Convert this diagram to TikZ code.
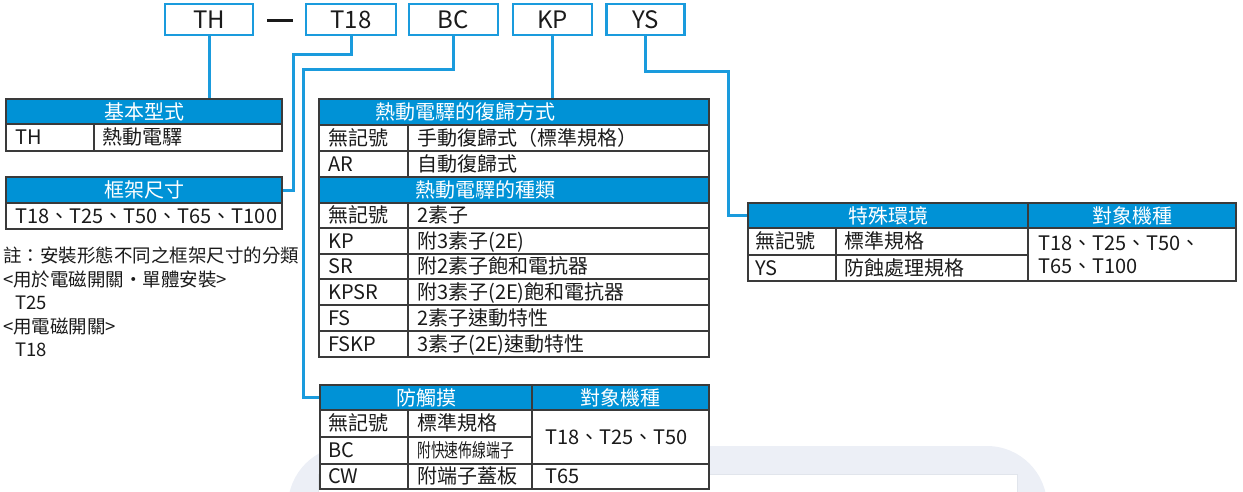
\documentclass[tikz,border=0pt]{standalone}
\usepackage{graphicx}
\usepackage{fontspec}
\setmainfont{Noto Sans CJK TC}
\definecolor{hdrblue}{HTML}{0092D6}
\definecolor{lineblue}{HTML}{1A9BDD}
\definecolor{tblgray}{HTML}{3A3A3A}
\definecolor{wmcol}{HTML}{ECEFF6}
\definecolor{wmedge}{HTML}{E1E5EC}
\definecolor{txt}{HTML}{1A1A1A}
\begin{document}
\begin{tikzpicture}[x=1pt,y=-1pt,
  topbox/.style={draw=lineblue, line width=2.6pt, inner sep=0pt, minimum height=31pt, font=\fontsize{24}{28}\selectfont, text=txt},
  conn/.style={draw=lineblue, line width=3pt},
  hdr/.style={fill=hdrblue, draw=tblgray, line width=1.3pt, inner sep=0pt, text=white, font=\fontsize{20}{24}\selectfont},
  hdrtext/.style={inner sep=0pt, text=white, font=\fontsize{20}{24}\selectfont},
  tblline/.style={draw=tblgray, line width=1.3pt},
  cell/.style={anchor=base west, yshift=-7pt, inner sep=0pt, text=txt, font=\fontsize{20}{24}\selectfont},
  note/.style={anchor=base west, yshift=-6.5pt, inner sep=0pt, text=txt, font=\fontsize{18.5}{22}\selectfont},
]
\useasboundingbox (0,0) rectangle (1243,491);
% watermark band
\fill[wmcol, rounded corners=60pt] (288,700) -- (288,446) -- (1047,446) -- (1047,700) -- cycle;
\filldraw[fill=white, draw=wmedge, line width=1pt] (318,474) rectangle (1017,520);

% top boxes
\node[topbox, minimum width=88pt] (TH) at (209,19.5) {TH};
\node[topbox, minimum width=90pt] (T18) at (351,19.5) {T18};
\node[topbox, minimum width=89pt] (BC) at (453.5,19.5) {BC};
\node[topbox, minimum width=79pt] (KP) at (552.5,19.5) {KP};
\node[topbox, minimum width=78pt] (YS) at (645.5,19.5) {YS};
\draw[line width=3pt, txt] (267,20) -- (293,20);

% header nodes
\node[hdr, minimum width=276pt, minimum height=25pt] (h1) at (144,111.5) {基本型式};
\node[hdr, minimum width=276pt, minimum height=26pt] (h2) at (144,190) {框架尺寸};
\node[hdr, minimum width=390pt, minimum height=26pt] (h3a) at (514,112) {};
\node[hdr, minimum width=390pt, minimum height=26pt] (h3b) at (514,190) {};
\node[hdr, minimum width=212pt, minimum height=25pt] (h4a) at (426,397.5) {防觸摸};
\node[hdr, minimum width=177pt, minimum height=25pt] (h4b) at (620.5,397.5) {對象機種};
\node[hdr, minimum width=280pt, minimum height=25pt] (h5a) at (888,215.5) {特殊環境};
\node[hdr, minimum width=208pt, minimum height=25pt] (h5b) at (1132,215.5) {對象機種};
\node[hdrtext, anchor=east] (t3a) at (556,112) {熱動電驛的復歸方式};
\node[hdrtext, anchor=east] (t3b) at (556,190) {熱動電驛的種類};

% connectors
\draw[conn] (TH.south) -- (TH.south |- h1.north);
\draw[conn] (T18.south) -- ++(0,18) -| (293,190) -- (h2.east);
\draw[conn] (BC.south) -- ++(0,33) -| (303,397.5) -- (h4a.west);
\draw[conn] (KP.south) -- (KP.south |- h3a.north);
\draw[conn] (YS.south) -- ++(0,35) -| (728,215.5) -- (h5a.west);

% table 1
\draw[tblline] (6,124) rectangle (282,151);
\draw[tblline] (94,124) -- (94,151);
\node[cell] (c1a) at (15,137.5) {TH};
\node[cell] (c1b) at (102,137.5) {熱動電驛};

% table 2
\draw[tblline] (6,203) rectangle (282,229);
\node[cell] (c2a) at (15,216) {T18、T25、T50、T65、T100};

% note
\node[note] (n1) at (3,256) {註：安裝形態不同之框架尺寸的分類};
\node[note] (n2) at (3,280) {<用於電磁開關・單體安裝>};
\node[note] (n3) at (15,303) {T25};
\node[note] (n4) at (3,327) {<用電磁開關>};
\node[note] (n5) at (15,350) {T18};

% table 3
\draw[tblline] (319,125) rectangle (709,177);
\draw[tblline] (319,151) -- (709,151);
\draw[tblline] (408,125) -- (408,177);
\node[cell] (c3a) at (328,138) {無記號};
\node[cell] (c3b) at (417,138) {手動復歸式（標準規格）};
\node[cell] (c3c) at (328,164) {AR};
\node[cell] (c3d) at (417,164) {自動復歸式};
\draw[tblline] (319,203) rectangle (709,357);
\foreach \yy in {228,254,279,305,331} \draw[tblline] (319,\yy) -- (709,\yy);
\draw[tblline] (408,203) -- (408,357);
\node[cell] (r1a) at (328,215.5) {無記號};
\node[cell] (r1b) at (417,215.5) {2素子};
\node[cell] (r2a) at (328,241) {KP};
\node[cell] (r2b) at (417,241) {附3素子(2E)};
\node[cell] (r3a) at (328,266.5) {SR};
\node[cell] (r3b) at (417,266.5) {附2素子飽和電抗器};
\node[cell] (r4a) at (328,292) {KPSR};
\node[cell] (r4b) at (417,292) {附3素子(2E)飽和電抗器};
\node[cell] (r5a) at (328,318) {FS};
\node[cell] (r5b) at (417,318) {2素子速動特性};
\node[cell] (r6a) at (328,344) {FSKP};
\node[cell] (r6b) at (417,344) {3素子(2E)速動特性};

% table 4
\filldraw[fill=white, tblline] (320,410) rectangle (709,489);
\draw[tblline] (320,437) -- (532,437);
\draw[tblline] (320,464) -- (709,464);
\draw[tblline] (408,410) -- (408,489);
\draw[tblline] (532,410) -- (532,489);
\node[cell] (d1a) at (328,423.5) {無記號};
\node[cell] (d1b) at (417,423.5) {標準規格};
\node[cell] (d2a) at (328,450.5) {BC};
\node[cell] (d2b) at (417,450.5) {\scalebox{0.69}[0.95]{附快速佈線端子}};
\node[cell] (d3a) at (328,476.5) {CW};
\node[cell] (d3b) at (417,476.5) {附端子蓋板};
\node[cell] (d4a) at (545,437) {T18、T25、T50};
\node[cell] (d4b) at (545,476.5) {T65};

% table 5
\draw[tblline] (748,228) rectangle (1236,281);
\draw[tblline] (748,255) -- (1028,255);
\draw[tblline] (836,228) -- (836,281);
\draw[tblline] (1028,228) -- (1028,281);
\node[cell] (e1a) at (755,241.5) {無記號};
\node[cell] (e1b) at (844,241.5) {標準規格};
\node[cell] (e2a) at (755,268) {YS};
\node[cell] (e2b) at (844,268) {防蝕處理規格};
\node[cell] (e3a) at (1038,243) {T18、T25、T50、};
\node[cell] (e3b) at (1038,266) {T65、T100};
\end{tikzpicture}
\end{document}
